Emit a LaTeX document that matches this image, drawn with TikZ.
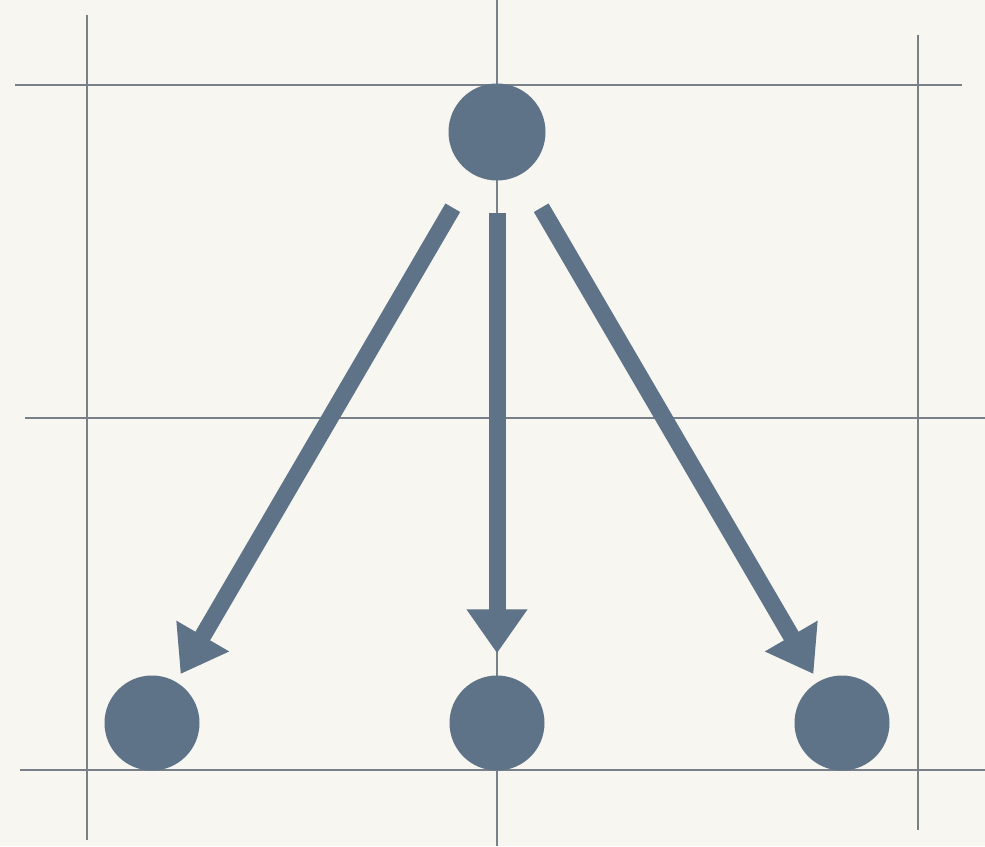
\documentclass[tikz,border=0pt]{standalone}
\usetikzlibrary{arrows.meta}
\definecolor{bgcream}{RGB}{248,246,240}
\definecolor{gridgray}{RGB}{120,128,138}
\definecolor{slateblue}{RGB}{94,114,136}
\tikzset{
  gridline/.style={draw=gridgray, line width=2.4pt},
  dot/.style={circle, fill=slateblue, draw=none, minimum size=#1, inner sep=0pt},
  bigarrow/.style={draw=slateblue, line width=17pt, -{Triangle[length=44pt,width=58pt]}},
}
\begin{document}
\begin{tikzpicture}[x=1pt,y=-1pt]
\fill[bgcream] (0,0) rectangle (985,846);
\useasboundingbox (0,0) rectangle (985,846);
% grid
\draw[gridline] (87,15) -- (87,840);
\draw[gridline] (497,0) -- (497,846);
\draw[gridline] (918,35) -- (918,830);
\draw[gridline] (15,85) -- (962,85);
\draw[gridline] (25,418) -- (985,418);
\draw[gridline] (20,770) -- (985,770);
% nodes
\node[dot=97pt] (top) at (497,132) {};
\node[dot=95pt] (bl) at (152,723) {};
\node[dot=95pt] (bm) at (497,723) {};
\node[dot=95pt] (br) at (842,723) {};
% arrows
\draw[bigarrow, shorten <=39pt, shorten >=9pt] (top) -- (bl);
\draw[bigarrow, shorten <=32pt, shorten >=22pt] (top) -- (bm);
\draw[bigarrow, shorten <=39pt, shorten >=9pt] (top) -- (br);
\end{tikzpicture}
\end{document}
